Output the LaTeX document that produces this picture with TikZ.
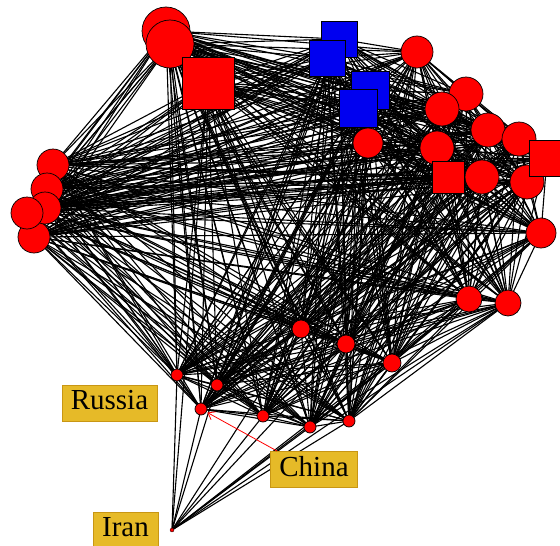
\documentclass[tikz,border=0pt]{standalone}
\usepackage{fontspec}
\setmainfont{Liberation Serif}
\usetikzlibrary{backgrounds,arrows.meta}
\definecolor{labgold}{RGB}{230,186,40}
\definecolor{labedge}{RGB}{200,150,20}
\definecolor{sqblue}{RGB}{0,0,240}
\begin{document}
\begin{tikzpicture}[x=1pt,y=-1pt,
  rc/.style={circle,fill=red,draw=black,line width=0.7pt,inner sep=0pt},
  rsq/.style={rectangle,fill=red,draw=black,line width=0.7pt,inner sep=0pt},
  bsq/.style={rectangle,fill=sqblue,draw=black,line width=0.7pt,inner sep=0pt},
  link/.style={black,line width=1.1pt},
  lab/.style={rectangle,fill=labgold,draw=labedge,line width=0.5pt,inner xsep=9pt,
    minimum height=36pt,font=\fontsize{29}{31}\selectfont,text height=19pt,text depth=6pt},
  pointer/.style={red,line width=0.8pt,-{Straight Barb[length=6pt,width=9pt]},shorten >=1pt}]
\useasboundingbox (0,0) rectangle (560,546);

% circles: name / x / y / radius
\foreach \n/\x/\y/\r in {
  t1/166/31/24, t2/170/44/24,
  l1/53/165/16, l5/34/237/16, l2/47/189/16, l3/45/208/16, l4/27/213/16,
  r1/417/52/16, r2/368/143/15, r3/466/94/17, r4/442/109/17, r5/488/130/17,
  r6/519/139/17, r7/437/148/17, r9/482/177/17, r10/527/182/17,
  r12/541/233/15, r13/469/299/13, r14/508/303/13,
  m1/301/329/9, m2/346/344/9, m3/392/363/9,
  s1/177/375/6, s2/217/385/6, s3/201/409/6, s4/263/416/6, s5/310/427/6, s6/349/421/6}
  \node[rc,minimum size={2*\r pt}] (\n) at (\x,\y) {};

% red squares: name / x / y / side
\foreach \n/\x/\y/\s in {t3/208/83/52, r8/448/177/32, r11/547/158/36}
  \node[rsq,minimum size={\s pt}] (\n) at (\x,\y) {};

% blue squares
\foreach \n/\x/\y/\s in {b1/339/39/36, b2/327/58/36, b3/370/90/38, b4/358/108/38}
  \node[bsq,minimum size={\s pt}] (\n) at (\x,\y) {};

\node[rc,minimum size=4pt,line width=0.3pt] (ir) at (172,530) {};

% links
\begin{pgfonlayer}{background}
  \foreach \a [count=\i] in {t1,t2,t3,l1,l2,l3,l4,l5,b1,b2,b3,b4,r1,r2,r3,r4,r5,r6,r7,r8,r9,r10,r11,r12,r13,r14,m1,m2,m3,s1,s2,s3,s4,s5,s6}{
    \foreach \b [count=\j] in {t1,t2,t3,l1,l2,l3,l4,l5,b1,b2,b3,b4,r1,r2,r3,r4,r5,r6,r7,r8,r9,r10,r11,r12,r13,r14,m1,m2,m3,s1,s2,s3,s4,s5,s6}{
      \ifnum\j>\i \draw[link] (\a.center) -- (\b.center);\fi
    }
  }
  \foreach \b in {s1,t3,s2,s3,s4,s5,s6,m1,m2,m3,r13,r14}
    \draw[link] (ir.center) -- (\b.center);
\end{pgfonlayer}

% labels
\node[lab] (russia) at (109.5,403) {Russia};
\node[lab] (china) at (314,469.5) {China};
\node[lab] (iran) at (125.5,530) {Iran};

\coordinate (ctail) at (277,451);
\draw[pointer] (ctail) -- (s3);
\end{tikzpicture}
\end{document}
